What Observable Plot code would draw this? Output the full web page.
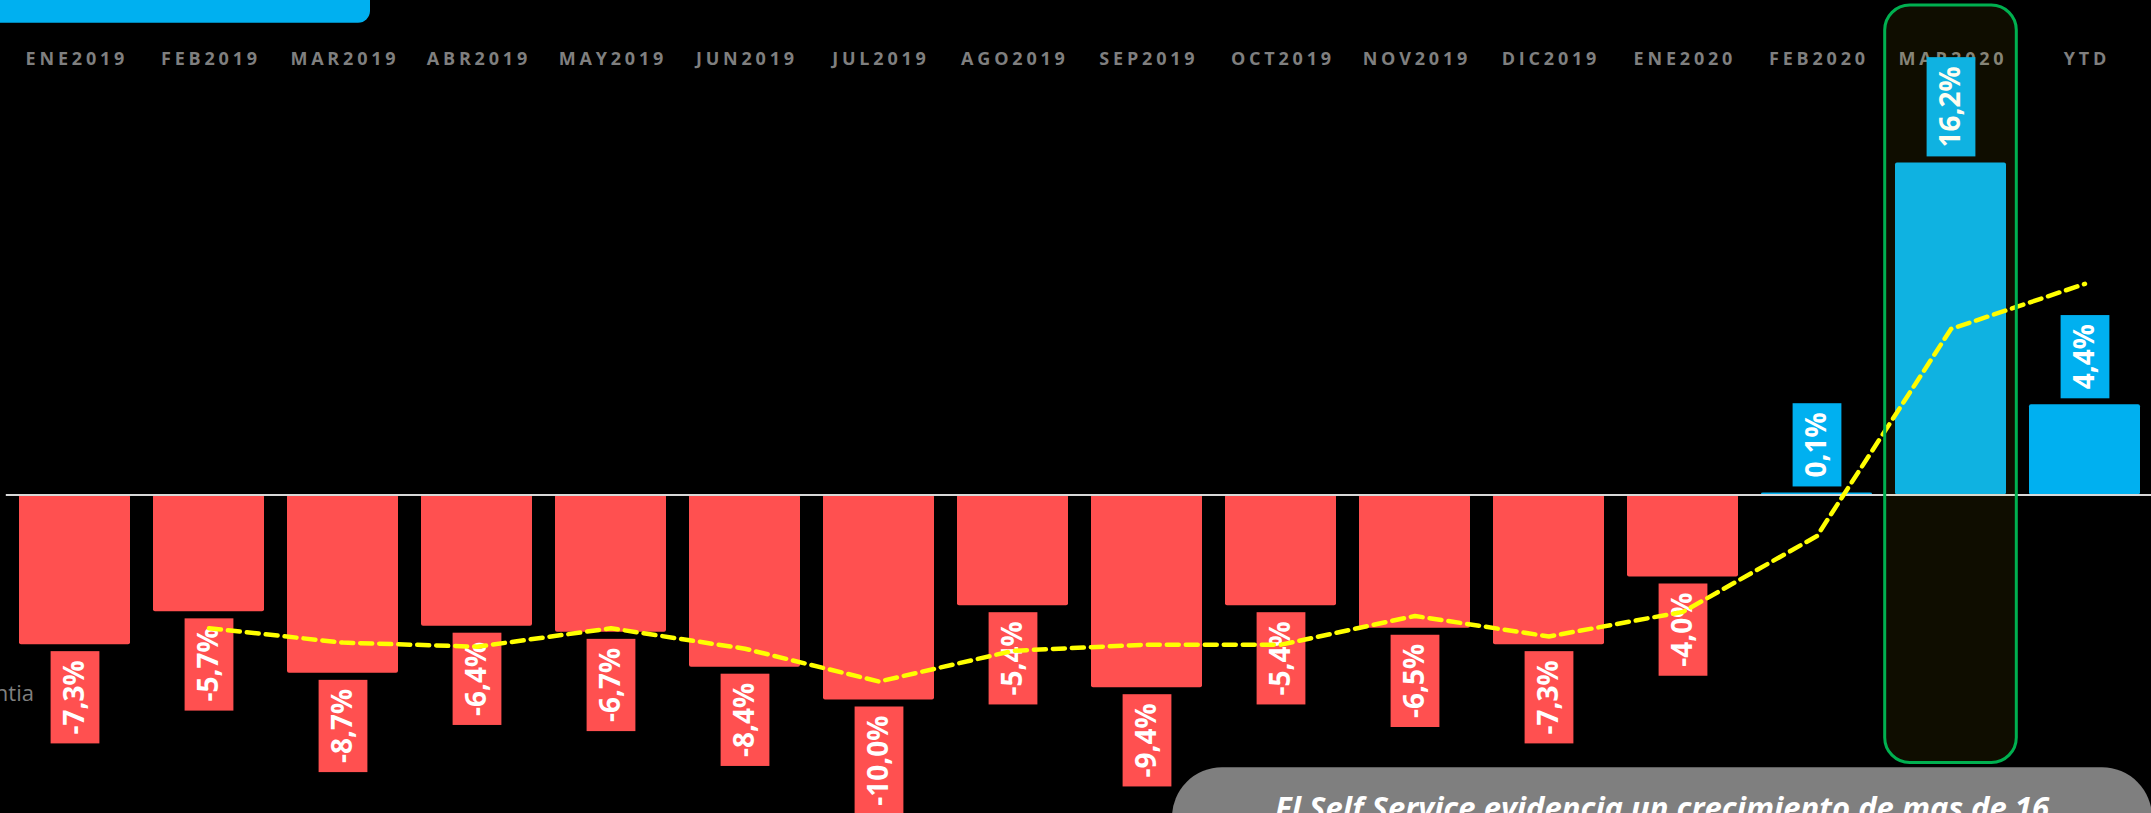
<!DOCTYPE html>
<html>
<head>
<meta charset="utf-8">
<script src="https://cdn.jsdelivr.net/npm/d3@7"></script>
<script src="https://cdn.jsdelivr.net/npm/@observablehq/plot@0.6"></script>
<style>
html, body { margin: 0; padding: 0; background: #000; overflow: hidden; }
#chart { position: relative; width: 2151px; height: 813px; }
</style>
</head>
<body>
<div id="chart"></div>
<script>
// ---- data ----
const months = ["ENE2019", "FEB2019", "MAR2019", "ABR2019", "MAY2019", "JUN2019", "JUL2019", "AGO2019",
  "SEP2019", "OCT2019", "NOV2019", "DIC2019", "ENE2020", "FEB2020", "MAR2020", "YTD"];
const values = [-7.3, -5.7, -8.7, -6.4, -6.7, -8.4, -10.0, -5.4, -9.4, -5.4, -6.5, -7.3, -4.0, 0.1, 16.2, 4.4];
const trendMonths = ["FEB2019", "MAR2019", "ABR2019", "MAY2019", "JUN2019", "JUL2019", "AGO2019",
  "SEP2019", "OCT2019", "NOV2019", "DIC2019", "ENE2020", "FEB2020", "MAR2020", "YTD"];
const trendValues = [-6.5, -7.2, -7.4, -6.5, -7.5, -9.1, -7.6, -7.3, -7.3, -5.9, -6.9, -5.7, -2.0, 8.1, 10.3];
const highlight = ["MAR2020"];
const headline = "El Self Service evidencia un crecimiento de mas de 16";
const legendLabel = "Garantia";

const RED = "#ff5050", BLUE = "#00b0f0";
const fmt = v => v.toFixed(1).replace(".", ",") + "%";
const bars = months.map((m, i) => ({m, v: values[i], label: fmt(values[i])}));
const trend = trendMonths.map((m, i) => ({m, v: trendValues[i]}));

const labelStyle = {fill: "#fff", fontSize: 28, fontWeight: "bold", rotate: -90};

const plot = Plot.plot({
  width: 2151,
  height: 813,
  marginLeft: 15.8,
  marginRight: 8,
  marginTop: 0,
  marginBottom: 0,
  style: {background: "#000", fontFamily: "'Open Sans', sans-serif", overflow: "visible"},
  x: {domain: months, paddingInner: 0.174, paddingOuter: 0, axis: null},
  y: {domain: [0, 10], range: [494.5, 289.5], axis: null},
  marks: [
    Plot.text(months, {x: d => d, frameAnchor: "top", lineAnchor: "middle", dy: 58.5, dx: 1.9, fill: "#7f7f7f", fontSize: 18, fontWeight: "bold", ariaDescription: "months"}),
    Plot.barY(bars, {x: "m", y: "v", fill: d => d.v < 0 ? RED : BLUE, rx: 2}),
    Plot.ruleY([0], {stroke: "#d9d9d9", strokeWidth: 2, insetLeft: -10, insetRight: -8}),
    Plot.text(bars.filter(d => d.v < 0), {x: "m", y: "v", text: "label", textAnchor: "end", dy: 15.5, ...labelStyle, ariaDescription: "neg-labels"}),
    Plot.text(bars.filter(d => d.v >= 0), {x: "m", y: "v", text: "label", textAnchor: "start", dy: -15.5, ...labelStyle, ariaDescription: "pos-labels"}),
    Plot.line(trend, {x: "m", y: "v", stroke: "#ffff00", strokeWidth: 4.5, strokeDasharray: "12,7"}),
    Plot.cell(highlight, {x: d => d, fill: "#ffe000", fillOpacity: 0.06, stroke: "#00b050", strokeWidth: 3, rx: 25,
      insetLeft: -10.3, insetRight: -10.3, insetTop: 5, insetBottom: 50.5})
  ]
});

document.getElementById("chart").appendChild(plot);
const svg = d3.select(plot);

svg.selectAll('g[aria-description="months"] text').style("letter-spacing", "3.8px");

// label background boxes
function boxes(sel, color) {
  svg.selectAll(sel).each(function () {
    const b = this.getBBox();
    const padX = 9, half = 24.4;
    const t = this;
    d3.select(t.parentNode).insert("rect", () => t)
      .attr("transform", t.getAttribute("transform"))
      .attr("x", b.x - padX).attr("width", b.width + 2 * padX)
      .attr("y", -half).attr("height", 2 * half)
      .attr("fill", color);
  });
}
boxes('g[aria-description="neg-labels"] text', RED);
boxes('g[aria-description="pos-labels"] text', BLUE);

// annotations
const ann = svg.append("g");
ann.append("path")
  .attr("d", "M0,0H370V10.7A12,12 0 0 1 358,22.7H0Z")
  .attr("fill", BLUE);
ann.append("text")
  .attr("x", 34).attr("y", 701).attr("text-anchor", "end")
  .attr("fill", "#7f7f7f").attr("font-size", 22)
  .text(legendLabel);
ann.append("rect")
  .attr("x", 1172).attr("y", 767.3).attr("width", 980).attr("height", 140).attr("rx", 50)
  .attr("fill", "#7f7f7f");
ann.append("text")
  .attr("x", 1662).attr("y", 819).attr("text-anchor", "middle")
  .attr("fill", "#fff").attr("font-size", 31).attr("font-weight", "bold").attr("font-style", "italic")
  .text(headline);
</script>
</body>
</html>
